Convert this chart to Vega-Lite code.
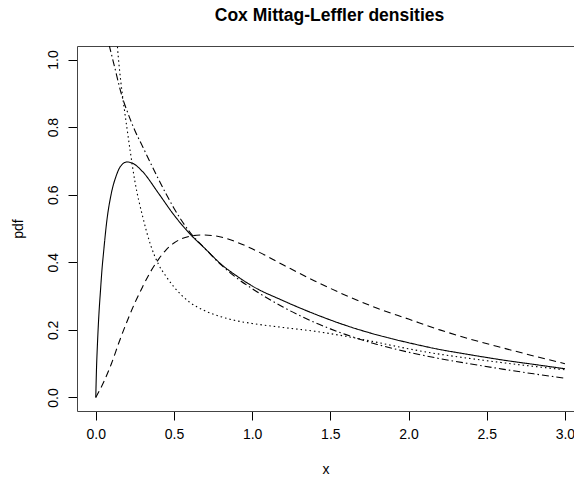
{
  "$schema": "https://vega.github.io/schema/vega-lite/v6.json",
  "autosize": {"type": "none"},
  "padding": {"left": 77, "top": 46, "right": 0, "bottom": 73},
  "width": 497,
  "height": 365,
  "background": "white",
  "title": {
    "text": "Cox Mittag-Leffler densities",
    "font": "Liberation Sans",
    "fontSize": 17.5,
    "fontWeight": "bold",
    "color": "black",
    "anchor": "middle",
    "dx": 4,
    "offset": 22
  },
  "config": {
    "view": {"stroke": null},
    "axis": {
      "labelFont": "Liberation Sans",
      "titleFont": "Liberation Sans",
      "labelFontSize": 14,
      "titleFontSize": 14,
      "titleFontWeight": "normal",
      "labelColor": "black",
      "titleColor": "black",
      "tickColor": "black",
      "domainColor": "#444",
      "tickSize": 9,
      "grid": false
    }
  },
  "data": {"values": [
    {"x": 0, "y": 0, "s": "a"},
    {"x": 0.005, "y": 0.09, "s": "a"},
    {"x": 0.01, "y": 0.15, "s": "a"},
    {"x": 0.02, "y": 0.245, "s": "a"},
    {"x": 0.03, "y": 0.315, "s": "a"},
    {"x": 0.04, "y": 0.38, "s": "a"},
    {"x": 0.05, "y": 0.43, "s": "a"},
    {"x": 0.07, "y": 0.52, "s": "a"},
    {"x": 0.1, "y": 0.605, "s": "a"},
    {"x": 0.13, "y": 0.655, "s": "a"},
    {"x": 0.16, "y": 0.685, "s": "a"},
    {"x": 0.2, "y": 0.697, "s": "a"},
    {"x": 0.24, "y": 0.692, "s": "a"},
    {"x": 0.3, "y": 0.668, "s": "a"},
    {"x": 0.4, "y": 0.605, "s": "a"},
    {"x": 0.5, "y": 0.54, "s": "a"},
    {"x": 0.6, "y": 0.485, "s": "a"},
    {"x": 0.7, "y": 0.44, "s": "a"},
    {"x": 0.8, "y": 0.395, "s": "a"},
    {"x": 0.9, "y": 0.36, "s": "a"},
    {"x": 1.0, "y": 0.33, "s": "a"},
    {"x": 1.2, "y": 0.286, "s": "a"},
    {"x": 1.4, "y": 0.247, "s": "a"},
    {"x": 1.6, "y": 0.213, "s": "a"},
    {"x": 1.8, "y": 0.185, "s": "a"},
    {"x": 2.0, "y": 0.162, "s": "a"},
    {"x": 2.2, "y": 0.142, "s": "a"},
    {"x": 2.4, "y": 0.126, "s": "a"},
    {"x": 2.6, "y": 0.111, "s": "a"},
    {"x": 2.8, "y": 0.098, "s": "a"},
    {"x": 3.0, "y": 0.085, "s": "a"},

    {"x": 0, "y": 0, "s": "b"},
    {"x": 0.05, "y": 0.045, "s": "b"},
    {"x": 0.1, "y": 0.1, "s": "b"},
    {"x": 0.15, "y": 0.165, "s": "b"},
    {"x": 0.2, "y": 0.225, "s": "b"},
    {"x": 0.25, "y": 0.28, "s": "b"},
    {"x": 0.3, "y": 0.328, "s": "b"},
    {"x": 0.35, "y": 0.372, "s": "b"},
    {"x": 0.4, "y": 0.408, "s": "b"},
    {"x": 0.45, "y": 0.437, "s": "b"},
    {"x": 0.5, "y": 0.457, "s": "b"},
    {"x": 0.55, "y": 0.47, "s": "b"},
    {"x": 0.6, "y": 0.477, "s": "b"},
    {"x": 0.68, "y": 0.481, "s": "b"},
    {"x": 0.75, "y": 0.479, "s": "b"},
    {"x": 0.8, "y": 0.475, "s": "b"},
    {"x": 0.9, "y": 0.46, "s": "b"},
    {"x": 1.0, "y": 0.44, "s": "b"},
    {"x": 1.2, "y": 0.392, "s": "b"},
    {"x": 1.4, "y": 0.345, "s": "b"},
    {"x": 1.6, "y": 0.302, "s": "b"},
    {"x": 1.8, "y": 0.264, "s": "b"},
    {"x": 2.0, "y": 0.232, "s": "b"},
    {"x": 2.2, "y": 0.2, "s": "b"},
    {"x": 2.4, "y": 0.172, "s": "b"},
    {"x": 2.6, "y": 0.147, "s": "b"},
    {"x": 2.8, "y": 0.123, "s": "b"},
    {"x": 3.0, "y": 0.1, "s": "b"},

    {"x": 0.09, "y": 1.45, "s": "c"},
    {"x": 0.1, "y": 1.35, "s": "c"},
    {"x": 0.12, "y": 1.17, "s": "c"},
    {"x": 0.14, "y": 1.03, "s": "c"},
    {"x": 0.16, "y": 0.935, "s": "c"},
    {"x": 0.18, "y": 0.862, "s": "c"},
    {"x": 0.2, "y": 0.795, "s": "c"},
    {"x": 0.22, "y": 0.73, "s": "c"},
    {"x": 0.25, "y": 0.64, "s": "c"},
    {"x": 0.3, "y": 0.535, "s": "c"},
    {"x": 0.35, "y": 0.452, "s": "c"},
    {"x": 0.4, "y": 0.395, "s": "c"},
    {"x": 0.45, "y": 0.358, "s": "c"},
    {"x": 0.5, "y": 0.327, "s": "c"},
    {"x": 0.55, "y": 0.302, "s": "c"},
    {"x": 0.6, "y": 0.282, "s": "c"},
    {"x": 0.7, "y": 0.256, "s": "c"},
    {"x": 0.8, "y": 0.239, "s": "c"},
    {"x": 0.9, "y": 0.227, "s": "c"},
    {"x": 1.0, "y": 0.219, "s": "c"},
    {"x": 1.2, "y": 0.207, "s": "c"},
    {"x": 1.4, "y": 0.196, "s": "c"},
    {"x": 1.6, "y": 0.181, "s": "c"},
    {"x": 1.8, "y": 0.163, "s": "c"},
    {"x": 2.0, "y": 0.144, "s": "c"},
    {"x": 2.2, "y": 0.128, "s": "c"},
    {"x": 2.4, "y": 0.115, "s": "c"},
    {"x": 2.6, "y": 0.103, "s": "c"},
    {"x": 2.8, "y": 0.092, "s": "c"},
    {"x": 3.0, "y": 0.082, "s": "c"},

    {"x": 0.05, "y": 1.14, "s": "d"},
    {"x": 0.08, "y": 1.055, "s": "d"},
    {"x": 0.1, "y": 1.016, "s": "d"},
    {"x": 0.12, "y": 0.979, "s": "d"},
    {"x": 0.15, "y": 0.922, "s": "d"},
    {"x": 0.17, "y": 0.888, "s": "d"},
    {"x": 0.2, "y": 0.848, "s": "d"},
    {"x": 0.25, "y": 0.79, "s": "d"},
    {"x": 0.3, "y": 0.742, "s": "d"},
    {"x": 0.35, "y": 0.694, "s": "d"},
    {"x": 0.4, "y": 0.647, "s": "d"},
    {"x": 0.45, "y": 0.602, "s": "d"},
    {"x": 0.5, "y": 0.56, "s": "d"},
    {"x": 0.6, "y": 0.49, "s": "d"},
    {"x": 0.7, "y": 0.44, "s": "d"},
    {"x": 0.8, "y": 0.393, "s": "d"},
    {"x": 0.9, "y": 0.354, "s": "d"},
    {"x": 1.0, "y": 0.322, "s": "d"},
    {"x": 1.2, "y": 0.267, "s": "d"},
    {"x": 1.4, "y": 0.222, "s": "d"},
    {"x": 1.5, "y": 0.203, "s": "d"},
    {"x": 1.6, "y": 0.186, "s": "d"},
    {"x": 1.8, "y": 0.157, "s": "d"},
    {"x": 2.0, "y": 0.134, "s": "d"},
    {"x": 2.2, "y": 0.115, "s": "d"},
    {"x": 2.4, "y": 0.099, "s": "d"},
    {"x": 2.6, "y": 0.084, "s": "d"},
    {"x": 2.8, "y": 0.07, "s": "d"},
    {"x": 3.0, "y": 0.057, "s": "d"}
  ]},
  "layer": [
    {
      "mark": {"type": "line", "clip": true, "color": "black", "strokeWidth": 1.1, "interpolate": "monotone"},
      "encoding": {
        "x": {
          "field": "x", "type": "quantitative",
          "scale": {"domain": [-0.12, 3.058], "nice": false, "zero": false},
          "axis": {"values": [0, 0.5, 1, 1.5, 2, 2.5, 3], "format": ".1f", "labelPadding": 7, "titlePadding": 21, "labelFlush": false, "labelOverlap": false},
          "title": "x"
        },
        "y": {
          "field": "y", "type": "quantitative",
          "scale": {"domain": [-0.04, 1.04], "nice": false, "zero": false},
          "axis": {"values": [0, 0.2, 0.4, 0.6, 0.8, 1.0], "format": ".1f", "labelAngle": -90, "labelAlign": "center", "labelBaseline": "bottom", "labelPadding": 8, "titlePadding": 21, "labelFlush": false, "labelOverlap": false},
          "title": "pdf"
        },
        "strokeDash": {
          "field": "s", "type": "nominal",
          "scale": {"domain": ["a", "b", "c", "d"], "range": [[1, 0], [7, 4.5], [1.5, 3], [1.5, 3, 7, 3]]},
          "legend": null
        }
      }
    },
    {
      "mark": {"type": "rule", "opacity": 0},
      "encoding": {
        "x": {"datum": 0, "type": "quantitative", "axis": {"orient": "top", "labels": false, "ticks": false, "title": null, "domain": true}}
      }
    }
  ],
  "resolve": {"axis": {"x": "independent"}}
}
